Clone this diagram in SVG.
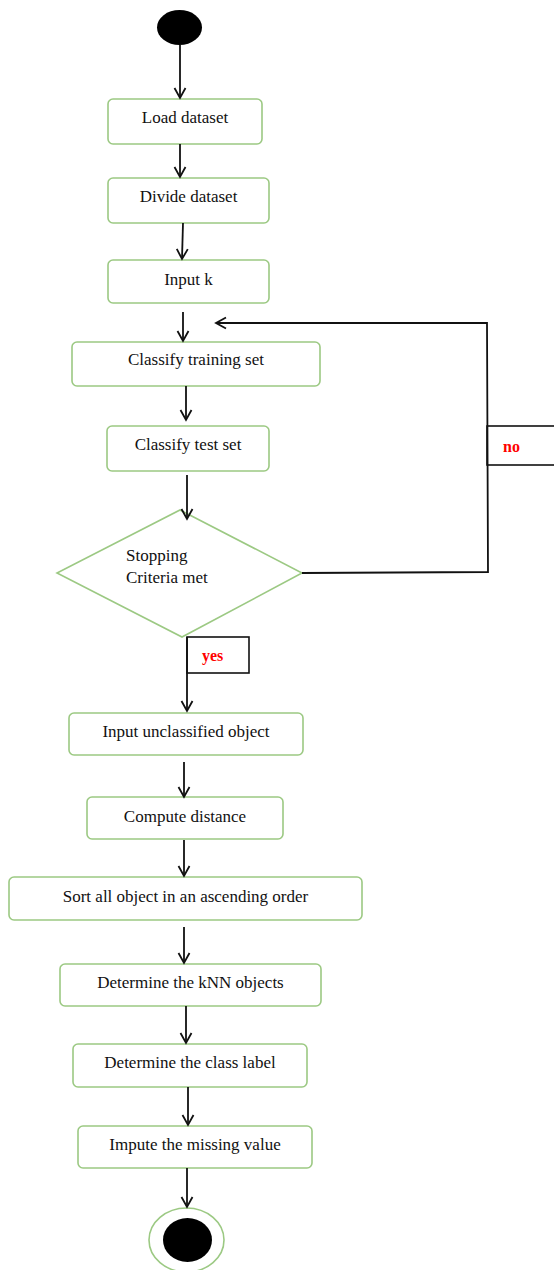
<svg xmlns="http://www.w3.org/2000/svg" width="554" height="1270" viewBox="0 0 554 1270">
<defs>
<marker id="arr" markerUnits="userSpaceOnUse" markerWidth="16" markerHeight="16" viewBox="-13 -8 16 16" refX="0" refY="0" orient="auto">
<path d="M-10,-5.5 L0,0 L-10,5.5" fill="none" stroke="#111" stroke-width="1.8"/>
</marker>
</defs>
<style>
.box{fill:#fff;stroke:#9cc983;stroke-width:1.6}
.t{font-family:"Liberation Serif","Times New Roman",serif;font-size:17px;fill:#111;text-anchor:middle}
.c{fill:none;stroke:#111;stroke-width:1.8}
.lbl{fill:#fff;stroke:#111;stroke-width:1.6}
.red{font-family:"Liberation Serif","Times New Roman",serif;font-size:16px;font-weight:bold;fill:#ff0000}
</style>
<rect width="554" height="1270" fill="#fff"/>
<g id="start"><ellipse cx="179.5" cy="27.5" rx="22.5" ry="17.5" fill="#000"/></g>
<g id="load"><rect class="box" x="108" y="99" width="154" height="45" rx="5"/><text class="t" x="185" y="123">Load dataset</text></g>
<g id="divide"><rect class="box" x="108" y="178" width="161" height="45" rx="5"/><text class="t" x="188.5" y="202">Divide dataset</text></g>
<g id="inputk"><rect class="box" x="108" y="260" width="161" height="43" rx="5"/><text class="t" x="188.5" y="285">Input k</text></g>
<g id="train"><rect class="box" x="72" y="342" width="248" height="44" rx="5"/><text class="t" x="196" y="365">Classify training set</text></g>
<g id="test"><rect class="box" x="107" y="426" width="162" height="45" rx="5"/><text class="t" x="188" y="450">Classify test set</text></g>
<g id="decision"><polygon class="box" points="180,510 302,573 182,637 57,573"/><text class="t" style="text-anchor:start" x="126" y="561">Stopping</text><text class="t" style="text-anchor:start" x="126" y="583">Criteria met</text></g>
<g id="no-label"><rect class="lbl" x="487" y="426" width="80" height="39"/><text class="red" x="503" y="452">no</text></g>
<g id="yes-label"><rect class="lbl" x="187" y="637" width="62" height="36"/><text class="red" x="202" y="661">yes</text></g>
<g id="unclassified"><rect class="box" x="69" y="713" width="234" height="42" rx="5"/><text class="t" x="186" y="737">Input unclassified object</text></g>
<g id="distance"><rect class="box" x="87" y="797" width="196" height="42" rx="5"/><text class="t" x="185" y="822">Compute distance</text></g>
<g id="sort"><rect class="box" x="9" y="877" width="353" height="43" rx="5"/><text class="t" x="185.5" y="902">Sort all object in an ascending order</text></g>
<g id="knn"><rect class="box" x="60" y="964" width="261" height="42" rx="5"/><text class="t" x="190.5" y="988">Determine the kNN objects</text></g>
<g id="classlabel"><rect class="box" x="73" y="1044" width="234" height="43" rx="5"/><text class="t" x="190" y="1068">Determine the class label</text></g>
<g id="impute"><rect class="box" x="78" y="1126" width="234" height="42" rx="5"/><text class="t" x="195" y="1150">Impute the missing value</text></g>
<g id="end"><ellipse cx="186.5" cy="1240" rx="37.5" ry="32" fill="#fff" stroke="#9cc983" stroke-width="1.6"/><ellipse cx="187.5" cy="1240" rx="24.5" ry="22" fill="#000"/></g>
<g id="connectors">
<path class="c" d="M180,45 L180,98" marker-end="url(#arr)"/>
<path class="c" d="M180,144 L180,177" marker-end="url(#arr)"/>
<path class="c" d="M183,223 L182,259" marker-end="url(#arr)"/>
<path class="c" d="M183,312 L183,341" marker-end="url(#arr)"/>
<path class="c" d="M186,386 L186,420" marker-end="url(#arr)"/>
<path class="c" d="M187,475 L187,519" marker-end="url(#arr)"/>
<path class="c" d="M302,573 L488,572 L487,323 L216,323" marker-end="url(#arr)"/>
<path class="c" d="M187,637 L187,711" marker-end="url(#arr)"/>
<path class="c" d="M184,762 L184,797" marker-end="url(#arr)"/>
<path class="c" d="M184,840 L184,876" marker-end="url(#arr)"/>
<path class="c" d="M184,927 L184,963" marker-end="url(#arr)"/>
<path class="c" d="M186,1006 L186,1043" marker-end="url(#arr)"/>
<path class="c" d="M188,1087 L188,1125" marker-end="url(#arr)"/>
<path class="c" d="M187,1168 L187,1207" marker-end="url(#arr)"/>
</g>
</svg>
